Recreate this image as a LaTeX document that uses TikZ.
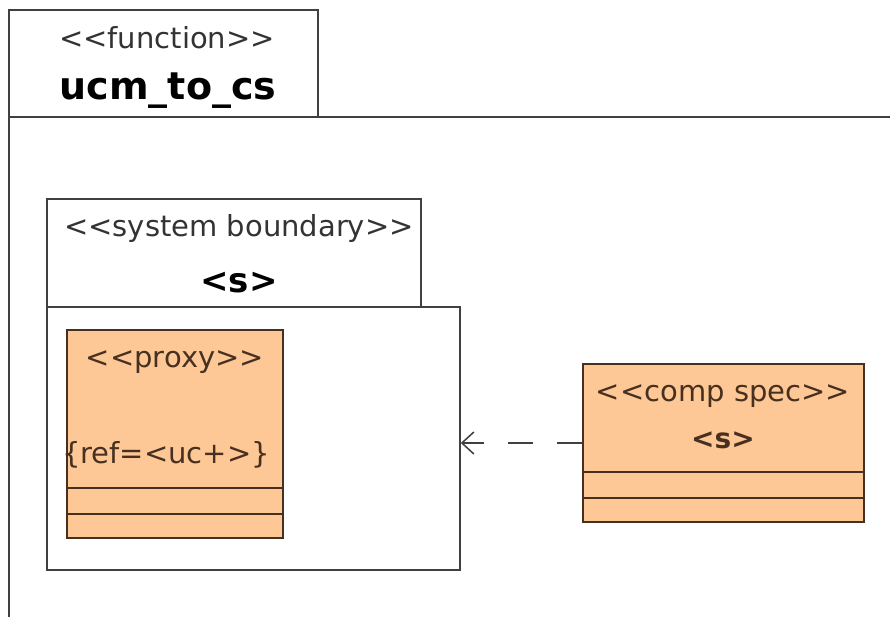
\documentclass[tikz,border=0pt]{standalone}
\usepackage{fontspec}
\setmainfont[Ligatures=TeXOff]{DejaVu Sans}
\usepackage{xcolor}
\usepackage{tikz}
\usetikzlibrary{positioning, arrows.meta, calc}

\definecolor{umlfill}{RGB}{253,200,150}
\definecolor{umlline}{RGB}{72,48,32}

\begin{document}
\begin{tikzpicture}[x=1pt, y=-1pt, line width=1.5pt,
  box/.style={draw=black!75, rectangle, inner sep=0pt},
  cls/.style={draw=umlline, fill=umlfill, rectangle, inner sep=0pt},
  stereo/.style={font=\fontsize{29}{32}\selectfont, text=black!80, inner sep=0pt},
  bname/.style={font=\bfseries\fontsize{38}{42}\selectfont, inner sep=0pt},
  sname/.style={font=\bfseries\fontsize{34}{38}\selectfont, inner sep=0pt},
  dep/.style={draw=black!75, dash pattern=on 25pt off 24pt,
              -{Straight Barb[length=12pt, width=22pt]}}]
  \useasboundingbox[fill=white] (0,0) rectangle (890,617);
  % function frame (tab and open body)
  \node[box, minimum width=309pt, minimum height=107pt] (fntab) at (163.5,63.5) {};
  \node[stereo] (fnst) at (167,38) {<<function>>};
  \node[bname] (fnname) at (168,91) {ucm\_to\_cs};
  \coordinate (frameR) at (890,117);
  \coordinate (frameB) at (9,617);
  \draw[black!75] (frameB) |- (frameR);
  % system boundary
  \node[box, minimum width=374pt, minimum height=108pt] (sbtab) at (234,253) {};
  \node[box, minimum width=413pt, minimum height=263pt] (sbbox) at (253.5,438.5) {};
  \node[stereo] (sbst) at (239,229) {<<system boundary>>};
  \node[sname] (sbname) at (239,283) {<s>};
  % proxy class
  \node[cls, minimum width=216pt, minimum height=208pt] (proxy) at (175,434) {};
  \node[stereo, text=umlline] (pxst) at (175,362) {<<proxy>>};
  \node[stereo, text=umlline] (pxref) at (166,455) {\{ref=<uc+>\}};
  % comp spec class
  \node[cls, minimum width=281pt, minimum height=158pt] (cs) at (723.5,443) {};
  \node[stereo, text=umlline] (csst) at (723,396) {<<comp spec>>};
  \node[sname, font=\bfseries\fontsize{28}{32}\selectfont, text=umlline] (csname) at (723,440) {<s>};
  % compartments
  \foreach \n in {proxy, cs}
    \foreach \dy in {25, 51}
      \draw[umlline] ($(\n.south west)+(0,-\dy)$) -- ($(\n.south east)+(0,-\dy)$);
  % dependency
  \draw[dep] (cs.west) -- (cs.west -| sbbox.east);
\end{tikzpicture}
\end{document}
